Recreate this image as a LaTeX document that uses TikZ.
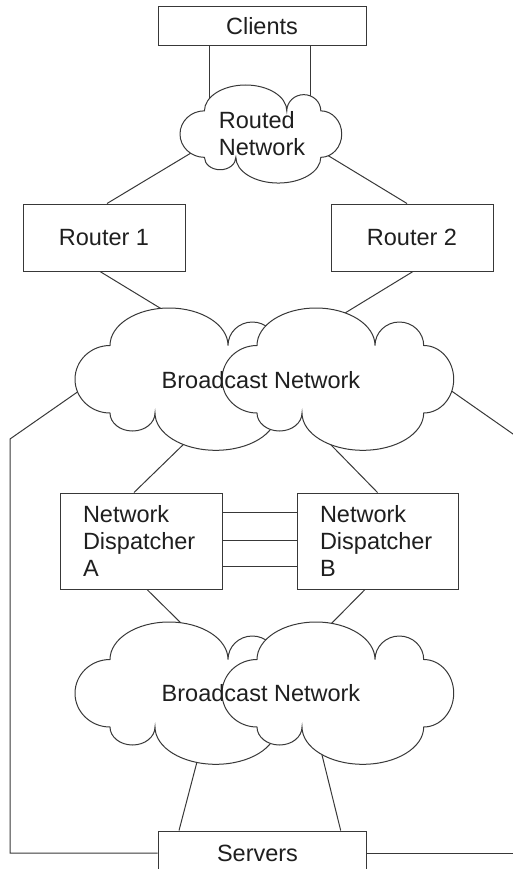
\documentclass[tikz,border=0pt]{standalone}
\usepackage{fontspec}
\setmainfont{Liberation Sans}
\definecolor{lc}{gray}{0.22}
\newcommand\lblfont{\fontsize{23.5}{26.7}\selectfont}
\newcommand\cloudpath{%
  (35,37.5)
  arc[start angle=180, end angle=360, x radius=59, y radius=37.5]
  arc[start angle=180, end angle=360, x radius=24.35, y radius=23.5]
  arc[start angle=-90, end angle=90, x radius=30, y radius=33.75]
  arc[start angle=0, end angle=180, x radius=60.85, y radius=37.3]
  arc[start angle=0, end angle=180, x radius=22.5, y radius=18]
  arc[start angle=90, end angle=270, x radius=35, y radius=33.75] -- cycle}
\tikzset{
  box/.style={draw=lc, fill=white, line width=1pt, inner sep=0pt, font=\lblfont, text=black!88},
  conn/.style={draw=lc, line width=1pt},
  cloudline/.style={draw=lc, fill=white, line width=1pt},
  cloudtext/.style={font=\lblfont, inner sep=0pt, text=black!88}
}
\begin{document}
\begin{tikzpicture}[x=1pt,y=1pt,yscale=-1]
\useasboundingbox (0,0) rectangle (513,869);
\clip (0,0) rectangle (513,869);

% boxes
\node[box, minimum width=208pt, minimum height=39pt] (clients) at (262,26.5) {Clients};
\node[box, minimum width=162pt, minimum height=67pt] (r1) at (104,237.5) {Router 1};
\node[box, minimum width=162pt, minimum height=67pt] (r2) at (412,237.5) {Router 2};
\node[box, text width=116pt, align=left, inner xsep=23pt, minimum height=96pt] (nda) at (141,541) {Network\\Dispatcher\\A};
\node[box, text width=115pt, align=left, inner xsep=23pt, minimum height=96pt] (ndb) at (377.5,541) {Network\\Dispatcher\\B};
\node[box, minimum width=208pt, minimum height=44pt] (servers) at (262,853) {\hspace*{-9pt}Servers};

% connector end points inside the clouds
\coordinate (rn1) at (209,105);
\coordinate (rn2) at (310.5,105);
\coordinate (rn3) at (196,150);
\coordinate (rn4) at (323.5,152.8);
\coordinate (ub1) at (168.5,313.2);
\coordinate (ub2) at (338.5,317);
\coordinate (ub3) at (84.2,387.3);
\coordinate (ub4) at (444.8,386.3);
\coordinate (ub5) at (189,439);
\coordinate (ub6) at (326,439.8);
\coordinate (lb1) at (185,627);
\coordinate (lb2) at (326,629);
\coordinate (lb3) at (199.5,752.3);
\coordinate (lb4) at (319.6,745.3);
\coordinate (lcorner) at (10,439);
\coordinate (redge) at (523,441);
\coordinate (bedge) at (520,0);
\coordinate (sv1) at (179,0);
\coordinate (sv2) at (340.7,0);
\coordinate (k1) at (0,512);
\coordinate (k2) at (0,540);
\coordinate (k3) at (0,566);

% connectors
\draw[conn] (rn1 |- clients.south) -- (rn1);
\draw[conn] (rn2 |- clients.south) -- (rn2);
\draw[conn] ([xshift=3pt]r1.north) -- (rn3);
\draw[conn] ([xshift=-5pt]r2.north) -- (rn4);
\draw[conn] ([xshift=-4pt]r1.south) -- (ub1);
\draw[conn] ([xshift=1pt]r2.south) -- (ub2);
\draw[conn] (ub3) -- (lcorner) -- (lcorner |- servers.west) -- (servers.west);
\draw[conn] (ub4) -- (redge);
\draw[conn] (servers.east) -- (bedge |- servers.east);
\draw[conn] ([xshift=-7pt]nda.north) -- (ub5);
\draw[conn] (ndb.north) -- (ub6);
\draw[conn] (k1 -| nda.east) -- (k1 -| ndb.west);
\draw[conn] (k2 -| nda.east) -- (k2 -| ndb.west);
\draw[conn] (k3 -| nda.east) -- (k3 -| ndb.west);
\draw[conn] ([xshift=6pt]nda.south) -- (lb1);
\draw[conn] ([xshift=-12.5pt]ndb.south) -- (lb2);
\draw[conn] (sv1 |- servers.north) -- (lb3);
\draw[conn] (sv2 |- servers.north) -- (lb4);

% clouds
\begin{scope}[shift={(180,85)}, xscale=0.698, yscale=0.689]
  \path[cloudline] \cloudpath;
\end{scope}
\begin{scope}[shift={(75,308)}]
  \path[cloudline] \cloudpath;
\end{scope}
\begin{scope}[shift={(222,308)}]
  \path[cloudline] \cloudpath;
\end{scope}
\begin{scope}[shift={(75,622)}]
  \path[cloudline] \cloudpath;
\end{scope}
\begin{scope}[shift={(222,622)}]
  \path[cloudline] \cloudpath;
\end{scope}

% cloud labels
\node[cloudtext, align=left] (routed) at (262,133.5) {Routed\\Network};
\node[cloudtext] (bcast1) at (261,380) {Broadcast Network};
\node[cloudtext] (bcast2) at (261,693) {Broadcast Network};
\end{tikzpicture}
\end{document}
